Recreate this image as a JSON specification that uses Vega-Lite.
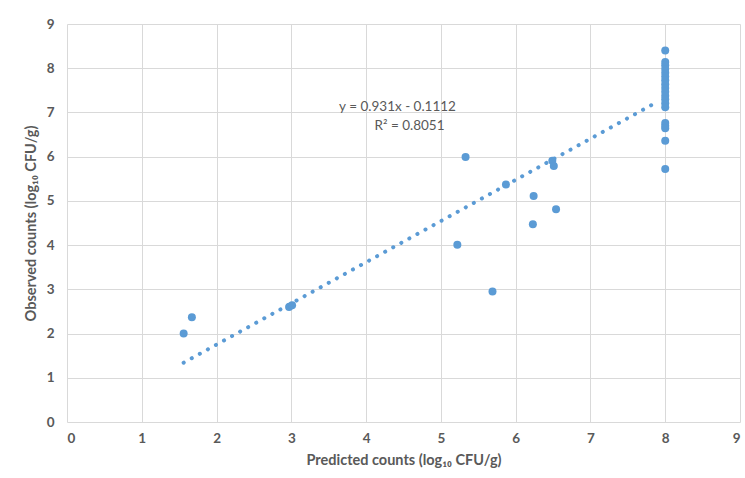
{
  "$schema": "https://vega.github.io/schema/vega-lite/v6.json",
  "width": 673,
  "height": 398,
  "autosize": {"type": "none"},
  "padding": {"left": 67, "top": 24, "right": 5, "bottom": 56},
  "background": "white",
  "config": {
    "view": {"stroke": null},
    "font": "Lato",
    "axis": {
      "grid": true,
      "gridColor": "#D9D9D9",
      "gridWidth": 1,
      "domain": false,
      "ticks": false,
      "labelColor": "#595959",
      "labelFont": "Lato",
      "labelFontSize": 13.5,
      "labelFontWeight": "bold",
      "titleColor": "#595959",
      "titleFont": "Lato",
      "titleFontSize": 14.5,
      "titleFontWeight": "bold"
    }
  },
  "datasets": {
    "points": [
      {"pred": 1.56, "obs": 2.0},
      {"pred": 1.67, "obs": 2.37},
      {"pred": 2.97, "obs": 2.6},
      {"pred": 3.01, "obs": 2.64},
      {"pred": 5.22, "obs": 4.01},
      {"pred": 5.33, "obs": 5.99},
      {"pred": 5.69, "obs": 2.95},
      {"pred": 5.87, "obs": 5.37},
      {"pred": 6.23, "obs": 4.47},
      {"pred": 6.24, "obs": 5.11},
      {"pred": 6.49, "obs": 5.91},
      {"pred": 6.51, "obs": 5.79},
      {"pred": 6.54, "obs": 4.81},
      {"pred": 8.0, "obs": 8.4},
      {"pred": 8.0, "obs": 8.14},
      {"pred": 8.0, "obs": 8.07},
      {"pred": 8.0, "obs": 7.98},
      {"pred": 8.0, "obs": 7.9},
      {"pred": 8.0, "obs": 7.81},
      {"pred": 8.0, "obs": 7.73},
      {"pred": 8.0, "obs": 7.64},
      {"pred": 8.0, "obs": 7.55},
      {"pred": 8.0, "obs": 7.47},
      {"pred": 8.0, "obs": 7.38},
      {"pred": 8.0, "obs": 7.3},
      {"pred": 8.0, "obs": 7.21},
      {"pred": 8.0, "obs": 7.12},
      {"pred": 8.0, "obs": 6.76},
      {"pred": 8.0, "obs": 6.7},
      {"pred": 8.0, "obs": 6.64},
      {"pred": 8.0, "obs": 6.36},
      {"pred": 8.0, "obs": 5.72}
    ],
    "trend": [
      {"pred": 1.56, "obs": 1.341},
      {"pred": 7.9, "obs": 7.244}
    ],
    "labels": [
      {"pred": 4.42, "obs": 7.12, "text": "y = 0.931x - 0.1112"},
      {"pred": 4.58, "obs": 6.7, "text": "R² = 0.8051"}
    ]
  },
  "layer": [
    {
      "data": {"name": "trend"},
      "mark": {
        "type": "line",
        "color": "#5B9BD5",
        "strokeWidth": 4,
        "strokeCap": "round",
        "strokeDash": [0.1, 9.1]
      },
      "encoding": {
        "x": {
          "field": "pred",
          "type": "quantitative",
          "scale": {"domain": [0, 9], "nice": false},
          "axis": {
            "values": [0, 1, 2, 3, 4, 5, 6, 7, 8, 9],
            "format": "d",
            "title": "Predicted counts (log₁₀ CFU/g)",
            "labelPadding": 9,
            "titlePadding": 9
          }
        },
        "y": {
          "field": "obs",
          "type": "quantitative",
          "scale": {"domain": [0, 9], "nice": false},
          "axis": {
            "values": [0, 1, 2, 3, 4, 5, 6, 7, 8, 9],
            "format": "d",
            "title": "Observed counts (log₁₀ CFU/g)",
            "labelPadding": 13,
            "titlePadding": 8
          }
        }
      }
    },
    {
      "data": {"name": "points"},
      "mark": {"type": "circle", "color": "#5B9BD5", "opacity": 1, "size": 64},
      "encoding": {
        "x": {"field": "pred", "type": "quantitative"},
        "y": {"field": "obs", "type": "quantitative"}
      }
    },
    {
      "data": {"name": "labels"},
      "mark": {
        "type": "text",
        "color": "#595959",
        "font": "Lato",
        "fontSize": 13.5,
        "align": "center",
        "baseline": "middle"
      },
      "encoding": {
        "x": {"field": "pred", "type": "quantitative"},
        "y": {"field": "obs", "type": "quantitative"},
        "text": {"field": "text"}
      }
    }
  ]
}
